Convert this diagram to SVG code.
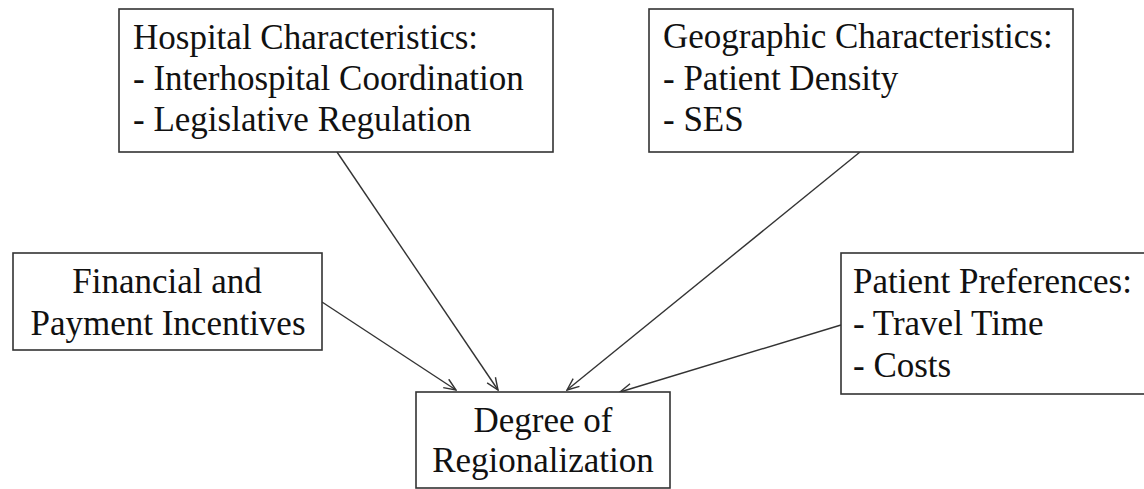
<svg xmlns="http://www.w3.org/2000/svg" width="1144" height="489" viewBox="0 0 1144 489">
<style>
.box{fill:#fff;stroke:#333;stroke-width:1.6}
.t{font-family:"Liberation Serif","Times New Roman",serif;font-size:35px;fill:#111}
.c{text-anchor:middle}
.edge{stroke:#333;stroke-width:1.4;fill:none;marker-end:url(#arr)}
</style>
<defs>
<marker id="arr" viewBox="0 0 14 12" refX="13" refY="6" markerWidth="14" markerHeight="12" markerUnits="userSpaceOnUse" orient="auto">
<path d="M1,1 L13,6 L1,11" fill="none" stroke="#333" stroke-width="1.4"/>
</marker>
</defs>
<rect width="1144" height="489" fill="#fff"/>
<g id="connectors">
<line class="edge" x1="322" y1="302" x2="456" y2="390"/>
<line class="edge" x1="337" y1="152" x2="498" y2="390"/>
<line class="edge" x1="860" y1="152" x2="567" y2="390"/>
<line class="edge" x1="841" y1="325" x2="620" y2="392"/>
</g>
<g id="hospital">
<rect class="box" x="119" y="9" width="434" height="143"/>
<text class="t" x="133" y="49">Hospital Characteristics:</text>
<text class="t" x="133" y="90">- Interhospital Coordination</text>
<text class="t" x="133" y="131">- Legislative Regulation</text>
</g>
<g id="geographic">
<rect class="box" x="649" y="9" width="424" height="143"/>
<text class="t" x="663" y="48">Geographic Characteristics:</text>
<text class="t" x="663" y="90">- Patient Density</text>
<text class="t" x="663" y="131">- SES</text>
</g>
<g id="financial">
<rect class="box" x="13" y="253" width="309" height="97"/>
<text class="t c" x="167" y="293">Financial and</text>
<text class="t c" x="168" y="335">Payment Incentives</text>
</g>
<g id="patient">
<rect class="box" x="841" y="253" width="320" height="141"/>
<text class="t" x="853" y="293">Patient Preferences:</text>
<text class="t" x="853" y="335">- Travel Time</text>
<text class="t" x="853" y="377">- Costs</text>
</g>
<g id="degree">
<rect class="box" x="416" y="392" width="254" height="96"/>
<text class="t c" x="543" y="432">Degree of</text>
<text class="t c" x="543" y="472">Regionalization</text>
</g>
</svg>
